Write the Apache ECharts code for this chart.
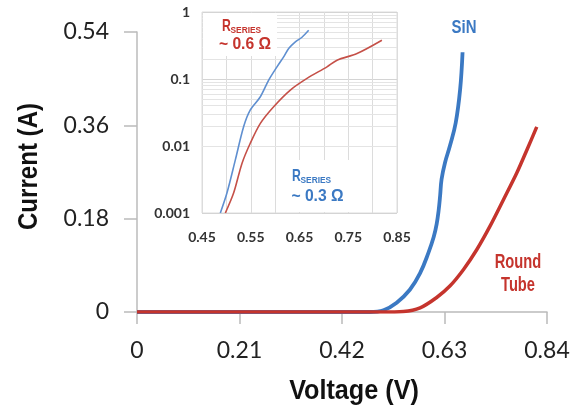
<!DOCTYPE html>
<html>
<head>
<meta charset="utf-8">
<script src="https://cdn.jsdelivr.net/npm/echarts@6/dist/echarts.min.js"></script>
<style>html,body{margin:0;padding:0;background:#fff}#c{width:575px;height:409px}</style>
</head>
<body>
<div id="c"></div>
<script>
// Main chart (linear)
var sinV  = [0, 0.45, 0.477, 0.505, 0.532, 0.559, 0.580, 0.597, 0.608, 0.614, 0.618, 0.621, 0.624, 0.631, 0.641, 0.653, 0.662, 0.667];
var sinI  = [0, 0, 0, 0.0035, 0.018, 0.043, 0.075, 0.114, 0.145, 0.170, 0.196, 0.224, 0.256, 0.288, 0.320, 0.365, 0.429, 0.501];
var tubeV = [0, 0.45, 0.50, 0.546, 0.580, 0.614, 0.641, 0.669, 0.696, 0.723, 0.751, 0.778, 0.799, 0.819];
var tubeI = [0, 0, 0, 0.001, 0.008, 0.028, 0.050, 0.082, 0.120, 0.165, 0.217, 0.268, 0.313, 0.357];
// Inset (log)
var insSinV  = [0.4876, 0.5013, 0.5184, 0.5355, 0.5491, 0.5697, 0.5868, 0.6038, 0.6175, 0.6278, 0.6415, 0.6551, 0.6688];
var insSinI  = [0.001, 0.0020, 0.0062, 0.0195, 0.0345, 0.0544, 0.0963, 0.152, 0.214, 0.285, 0.358, 0.420, 0.533];
var insTubeV = [0.4979, 0.515, 0.532, 0.549, 0.5697, 0.597, 0.6312, 0.6654, 0.7064, 0.727, 0.768, 0.819];
var insTubeI = [0.001, 0.0020, 0.0055, 0.011, 0.0218, 0.0386, 0.0684, 0.102, 0.152, 0.191, 0.24, 0.379];
var xTicks = ['0', '0.21', '0.42', '0.63', '0.84'];
var yTicks = ['0', '0.18', '0.36', '0.54'];
var insXTicks = ['0.45', '0.55', '0.65', '0.75', '0.85'];
var insYTicks = ['0.001', '0.01', '0.1', '1'];
var minorLog = [0.002,0.003,0.004,0.005,0.006,0.007,0.008,0.009,0.02,0.03,0.04,0.05,0.06,0.07,0.08,0.09,0.2,0.3,0.4,0.5,0.6,0.7,0.8,0.9];

function zip(a, b) { return a.map(function (v, i) { return [v, b[i]]; }); }

var BLUE = '#3b79c3', RED = '#c5342d';
var IBLUE = '#5f8fd0', IRED = '#c55048';
var COND = "'Liberation Sans', Arial, sans-serif";
var TICKF = "Lato, 'Open Sans', sans-serif";

function label(text, x, y, size, color, sx, opts) {
  opts = opts || {};
  return {type: 'text', z: 6, silent: true, x: x, y: y, scaleX: sx, rotation: opts.rot || 0,
    style: {text: text, x: 0, y: 0, align: opts.align || 'center', verticalAlign: opts.va || 'middle',
      fontFamily: COND, fontWeight: 'bold', fontSize: size, fill: color, lineHeight: opts.lh || size}};
}

var chart = echarts.init(document.getElementById('c'), null, {renderer: 'canvas'});
chart.setOption({
  animation: false,
  backgroundColor: '#fff',
  grid: [
    {left: 137, right: 28, top: 32, bottom: 97},
    {left: 202, right: 178, top: 12, bottom: 196, show: true, borderColor: '#dcdcdc', borderWidth: 1, backgroundColor: 'transparent'}
  ],
  xAxis: [
    {
      gridIndex: 0, type: 'value', min: 0, max: 0.84, interval: 0.21,
      axisLine: {lineStyle: {color: '#bbb', width: 1.5}},
      axisTick: {show: true, length: 12, lineStyle: {color: '#bbb', width: 1.5}},
      splitLine: {show: false},
      axisLabel: {fontFamily: TICKF, fontSize: 23, color: '#222', margin: 27,
        formatter: function (v) { var i = Math.round(v / 0.21); return xTicks[i] || ''; }}
    },
    {
      gridIndex: 1, type: 'value', min: 0.45, max: 0.85, interval: 0.05,
      axisLine: {show: false}, axisTick: {show: false},
      splitLine: {show: true, lineStyle: {color: '#dcdcdc', width: 1}},
      axisLabel: {fontFamily: TICKF, fontWeight: 'bold', fontSize: 14, color: '#333', margin: 17,
        formatter: function (v) { var k = Math.round((v - 0.45) / 0.05); return k % 2 === 0 ? insXTicks[k / 2] : ''; }}
    }
  ],
  yAxis: [
    {
      gridIndex: 0, type: 'value', min: 0, max: 0.54, interval: 0.18,
      axisLine: {show: true, lineStyle: {color: '#bbb', width: 1.5}},
      axisTick: {show: true, length: 13, lineStyle: {color: '#bbb', width: 1.5}},
      splitLine: {show: false},
      axisLabel: {fontFamily: TICKF, fontSize: 23, color: '#222', margin: 28,
        formatter: function (v) { var i = Math.round(v / 0.18); return yTicks[i] || ''; }}
    },
    {
      gridIndex: 1, type: 'log', logBase: 10, min: 0.001, max: 1,
      axisLine: {show: false}, axisTick: {show: false},
      splitLine: {show: true, lineStyle: {color: '#d4d4d4', width: 1}},
      axisLabel: {fontFamily: TICKF, fontWeight: 'bold', fontSize: 14, color: '#333', margin: 12,
        formatter: function (v) { var i = Math.round(Math.log10(v)) + 3; return insYTicks[i] || ''; }}
    }
  ],
  series: [
    {
      type: 'line', xAxisIndex: 1, yAxisIndex: 1, data: [], silent: true, z: 1,
      markLine: {silent: true, z: 1, symbol: 'none', label: {show: false}, animation: false,
        lineStyle: {color: '#e4e4e4', width: 1, type: 'solid'},
        data: minorLog.map(function (v) { return {yAxis: v}; })}
    },
    {type: 'line', xAxisIndex: 1, yAxisIndex: 1, data: zip(insTubeV, insTubeI), smooth: 0.3, showSymbol: false,
      lineStyle: {color: IRED, width: 1.6}, z: 3},
    {type: 'line', xAxisIndex: 1, yAxisIndex: 1, data: zip(insSinV, insSinI), smooth: 0.3, showSymbol: false,
      lineStyle: {color: IBLUE, width: 1.6}, z: 3},
    {type: 'line', xAxisIndex: 0, yAxisIndex: 0, data: zip(sinV, sinI), smooth: 0.4, showSymbol: false,
      lineStyle: {color: BLUE, width: 3.8}, z: 3},
    {type: 'line', xAxisIndex: 0, yAxisIndex: 0, data: zip(tubeV, tubeI), smooth: 0.3, showSymbol: false,
      lineStyle: {color: RED, width: 3.5}, z: 4}
  ],
  graphic: [
    {type: 'rect', shape: {x: 203, y: 13, width: 74, height: 43}, style: {fill: '#fff'}, z: 5, silent: true},
    {type: 'rect', shape: {x: 286, y: 160, width: 67, height: 52}, style: {fill: '#fff'}, z: 5, silent: true},
    // axis names
    label('Voltage (V)', 354, 391, 28, '#111', 0.90),
    label('Current (A)', 29, 166.5, 28, '#111', 0.86, {rot: Math.PI / 2}),
    // inset annotations
    label('R', 222, 26, 17, RED, 0.72, {align: 'left'}),
    label('SERIES', 230.5, 30, 9.5, RED, 0.88, {align: 'left'}),
    label('~ 0.6 Ω', 245, 44, 16.5, RED, 0.95),
    label('R', 292, 176.5, 17, BLUE, 0.72, {align: 'left'}),
    label('SERIES', 300.5, 180.5, 9.5, BLUE, 0.88, {align: 'left'}),
    label('~ 0.3 Ω', 317.5, 196, 16.5, BLUE, 0.95),
    // series labels
    label('SiN', 464, 28.5, 18, BLUE, 0.83),
    label('Round', 518, 262.5, 21, RED, 0.70),
    label('Tube', 518, 285, 21, RED, 0.70)
  ]
});
</script>
</body>
</html>
